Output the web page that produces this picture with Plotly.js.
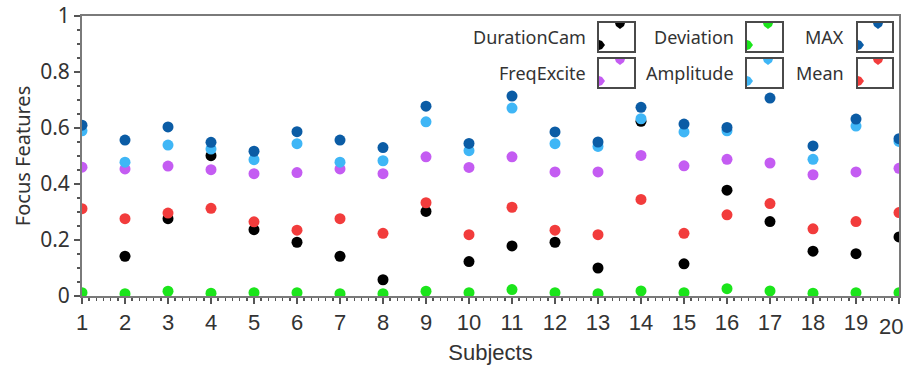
<!DOCTYPE html>
<html>
<head>
<meta charset="utf-8">
<script src="https://cdn.plot.ly/plotly-3.0.1.min.js"></script>
<style>html,body{margin:0;padding:0;background:#fff;}#chart{width:906px;height:369px;}</style>
</head>
<body>
<div id="chart"></div>
<script>
const subjects = [1,2,3,4,5,6,7,8,9,10,11,12,13,14,15,16,17,18,19,20];
const durationCam = [null,0.142,0.276,0.501,0.237,0.192,0.142,0.058,0.302,0.123,0.179,0.192,0.100,0.624,0.115,0.378,0.266,0.160,0.151,0.211];
const deviation  = [0.012,0.008,0.017,0.010,0.012,0.012,0.008,0.008,0.017,0.012,0.023,0.012,0.008,0.018,0.012,0.026,0.018,0.010,0.012,0.012];
const maxVals    = [0.610,0.557,0.604,0.549,0.517,0.587,0.557,0.530,0.678,0.545,0.714,0.586,0.550,0.674,0.614,0.602,0.707,0.536,0.632,0.562];
const freqExcite = [0.460,0.454,0.464,0.451,0.437,0.441,0.454,0.437,0.497,0.459,0.497,0.443,0.443,0.502,0.465,0.488,0.475,0.433,0.443,0.456];
const amplitude  = [0.590,0.478,0.539,0.525,0.487,0.544,0.478,0.483,0.622,0.519,0.671,0.544,0.534,0.633,0.586,0.590,0.760,0.488,0.607,0.552];
const meanVals   = [0.312,0.276,0.296,0.313,0.265,0.235,0.276,0.224,0.333,0.219,0.317,0.235,0.219,0.345,0.224,0.290,0.330,0.240,0.266,0.298];
const yTicks = [0,0.2,0.4,0.6,0.8,1];
const yTickText = ["0","0.2","0.4","0.6","0.8","1"];
const xTickText = subjects.map(String);

const colors = {DurationCam:"#000000",Deviation:"#1be51b",MAX:"#0b5ca5",FreqExcite:"#c45cf2",Amplitude:"#3fb6f6",Mean:"#f23c3c"};
const values = {DurationCam:durationCam,Deviation:deviation,MAX:maxVals,FreqExcite:freqExcite,Amplitude:amplitude,Mean:meanVals};
const drawOrder = ["DurationCam","Deviation","FreqExcite","Amplitude","Mean","MAX"];

const traces = drawOrder.map(n => ({
  x: subjects, y: values[n], type:"scatter", mode:"markers", name:n, showlegend:false,
  marker:{symbol:"circle", size:11, color:colors[n], line:{width:0}},
  cliponaxis:true
}));

// geometry (pixels)
const L=82, R=899, T=16, B=296;
const W=R-L, H=B-T;
const px = x => (x-L)/W;
const py = y => (B-y)/H;
const P = (x,y) => px(x).toFixed(5)+","+py(y).toFixed(5);

const cols = [{textR:588, bx0:598, bx1:635},{textR:736, bx0:746, bx1:783},{textR:846, bx0:857, bx1:893}];
const rows = [{cy:37, by0:22, by1:52},{cy:73, by0:58, by1:88}];
const legendLayout = [["DurationCam","Deviation","MAX"],["FreqExcite","Amplitude","Mean"]];

const shapes = [];
const annotations = [];
legendLayout.forEach((row, ri) => {
  row.forEach((name, ci) => {
    const c = cols[ci], r = rows[ri], col = colors[name];
    annotations.push({xref:"paper", yref:"paper", x:px(c.textR), y:py(r.cy), xanchor:"right", yanchor:"middle",
      text:name, showarrow:false, font:{family:"Noto Sans, Open Sans, sans-serif", size:18, color:"#333"}});
    shapes.push({type:"rect", xref:"paper", yref:"paper", x0:px(c.bx0), x1:px(c.bx1), y0:py(r.by1), y1:py(r.by0),
      fillcolor:"#ffffff", line:{width:0}, layer:"above"});
    const tx = c.bx1-15, ty = r.by0+1;
    shapes.push({type:"path", xref:"paper", yref:"paper", layer:"above", fillcolor:col, line:{width:0},
      path:"M"+P(tx-5,ty)+" L"+P(tx+5,ty)+" L"+P(tx+4,ty+3)+" L"+P(tx,ty+6)+" L"+P(tx-4,ty+3)+" Z"});
    const lx = c.bx0+1, ly = r.by1-7;
    shapes.push({type:"path", xref:"paper", yref:"paper", layer:"above", fillcolor:col, line:{width:0},
      path:"M"+P(lx,ly-5)+" L"+P(lx,ly+5)+" L"+P(lx+3,ly+4)+" L"+P(lx+6,ly)+" L"+P(lx+3,ly-4)+" Z"});
    shapes.push({type:"rect", xref:"paper", yref:"paper", x0:px(c.bx0), x1:px(c.bx1), y0:py(r.by1), y1:py(r.by0),
      line:{color:"#4a4a4a", width:2}, layer:"above"});
  });
});

// last x tick label (Plotly drops it at the paper edge); kept inside the page
annotations.push({xref:"paper", yref:"paper", x:px(905), y:py(312), xanchor:"right", yanchor:"top",
  text:xTickText[19], showarrow:false, font:{family:"Liberation Sans Narrow, Liberation Sans, sans-serif", size:22, color:"#333"}});

const axisCommon = {
  showgrid:false, zeroline:false, showline:true, linecolor:"#7a7a7a", linewidth:2, mirror:true,
  ticks:"outside", ticklen:6, tickwidth:2, tickcolor:"#555",
};
const layout = {
  width:906, height:369,
  margin:{l:L, r:906-R, t:T, b:369-B},
  paper_bgcolor:"#ffffff", plot_bgcolor:"#ffffff",
  showlegend:false,
  xaxis: Object.assign({}, axisCommon, {
    range:[1,20], tickmode:"array", tickvals:subjects, ticktext:xTickText,
    tickfont:{family:"Liberation Sans Narrow, Liberation Sans, sans-serif", size:22, color:"#333"},
    minor:{dtick:1/6, tick0:1, ticks:"outside", ticklen:3, tickwidth:1.5, tickcolor:"#555", showgrid:false},
    title:{text:"Subjects", font:{family:"Liberation Sans Narrow, Liberation Sans, sans-serif", size:22, color:"#333"}, standoff:10}
  }),
  yaxis: Object.assign({}, axisCommon, {
    range:[0,1], tickmode:"array", tickvals:yTicks, ticktext:yTickText,
    tickfont:{family:"Noto Sans, Open Sans, sans-serif", size:21, color:"#333"},
    minor:{dtick:0.05, tick0:0, ticks:"outside", ticklen:3, tickwidth:1.5, tickcolor:"#555", showgrid:false},
    title:{text:"Focus Features", font:{family:"Noto Sans, Open Sans, sans-serif", size:20, color:"#333"}, standoff:4}
  }),
  shapes: shapes,
  annotations: annotations
};
Plotly.newPlot("chart", traces, layout, {displayModeBar:false, staticPlot:true});
</script>
</body>
</html>
